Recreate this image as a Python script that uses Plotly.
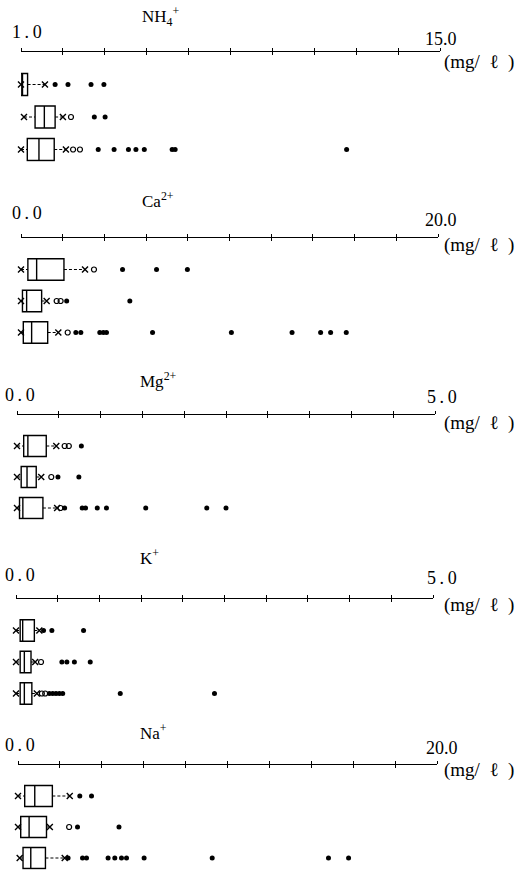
import plotly.graph_objects as go
import numpy as np

GROUPS = ["A", "B", "C"]

ION_NAMES = ["NH<sub>4</sub><sup>+</sup>", "Ca<sup>2+</sup>", "Mg<sup>2+</sup>", "K<sup>+</sup>", "Na<sup>+</sup>"]
AXIS_MIN = [1.0, 0.0, 0.0, 0.0, 0.0]
AXIS_MAX = [15.0, 20.0, 5.0, 5.0, 20.0]
AXIS_MIN_LABELS = ["1\u2009.\u20090", "0\u2009.\u20090", "0\u2009.\u20090", "0\u2009.\u20090", "0\u2009.\u20090"]
AXIS_MAX_LABELS = ["15.0", "20.0", "5\u2009.\u20090", "5\u2009.\u20090", "20.0"]
UNIT = "(mg/\u00a0\u00a0ℓ\u00a0\u00a0)"

# NH4+
NH4_LOW = [1.0, 1.10, 1.0]
NH4_Q1 = [1.0, 1.47, 1.21]
NH4_MED = [1.05, 1.78, 1.60]
NH4_Q3 = [1.22, 2.14, 2.11]
NH4_HIGH = [1.80, 2.40, 2.50]
NH4_MILD = [[], [0.97, 2.67], [2.74, 2.97]]
NH4_FAR = [[2.14, 2.57, 3.34, 3.77], [3.45, 3.81],
           [3.58, 4.11, 4.59, 4.84, 5.12, 6.05, 6.15, 11.88]]

# Ca2+
CA_LOW = [0.0, 0.0, 0.0]
CA_Q1 = [0.33, 0.07, 0.11]
CA_MED = [0.75, 0.27, 0.51]
CA_Q3 = [2.06, 0.99, 1.28]
CA_HIGH = [3.07, 1.23, 1.79]
CA_MILD = [[3.50], [1.71, 1.90], [2.24]]
CA_FAR = [[4.87, 6.50, 7.98], [2.19, 5.22],
          [2.63, 2.87, 3.78, 3.95, 4.10, 6.31, 10.09, 13.0, 14.37, 14.85, 15.6]]

# Mg2+
MG_LOW = [0.0, 0.0, 0.0]
MG_Q1 = [0.08, 0.05, 0.03]
MG_MED = [0.13, 0.12, 0.07]
MG_Q3 = [0.35, 0.23, 0.31]
MG_HIGH = [0.47, 0.29, 0.48]
MG_MILD = [[0.57, 0.62], [0.41], [0.52]]
MG_FAR = [[0.77], [0.49, 0.74], [0.57, 0.78, 0.82, 0.96, 1.07, 1.54, 2.27, 2.50]]

# K+
K_LOW = [0.0, 0.0, 0.0]
K_Q1 = [0.05, 0.05, 0.05]
K_MED = [0.08, 0.10, 0.10]
K_Q3 = [0.22, 0.18, 0.19]
K_HIGH = [0.28, 0.23, 0.25]
K_MILD = [[], [0.30], [0.31, 0.35]]
K_FAR = [[0.33, 0.43, 0.81], [0.55, 0.61, 0.70, 0.89],
         [0.40, 0.44, 0.48, 0.52, 0.56, 1.25, 2.38]]

# Na+
NA_LOW = [0.0, 0.0, 0.08]
NA_Q1 = [0.32, 0.13, 0.24]
NA_MED = [0.80, 0.53, 0.61]
NA_Q3 = [1.64, 1.36, 1.31]
NA_HIGH = [2.47, 1.52, 2.23]
NA_MILD = [[], [2.44], []]
NA_FAR = [[2.95, 3.51], [2.84, 4.82],
          [2.39, 3.08, 3.27, 4.30, 4.62, 4.94, 5.18, 6.02, 9.27, 14.82, 15.78]]

STATS = [
    (NH4_LOW, NH4_Q1, NH4_MED, NH4_Q3, NH4_HIGH, NH4_MILD, NH4_FAR),
    (CA_LOW, CA_Q1, CA_MED, CA_Q3, CA_HIGH, CA_MILD, CA_FAR),
    (MG_LOW, MG_Q1, MG_MED, MG_Q3, MG_HIGH, MG_MILD, MG_FAR),
    (K_LOW, K_Q1, K_MED, K_Q3, K_HIGH, K_MILD, K_FAR),
    (NA_LOW, NA_Q1, NA_MED, NA_Q3, NA_HIGH, NA_MILD, NA_FAR),
]

# ---- layout geometry (pixels) ----
W, H = 523, 870
AX_Y = [52, 238, 415, 599, 765]
SPACING = [32.5, 31.5, 31.0, 31.5, 31.0]
X0 = [21, 21, 17, 16, 18]
X1 = [440, 438, 435, 433, 437]
TITLE_POS = [(140, 16), (140, 200), (138, 380), (138, 557), (138, 732)]
MIN_LBL_POS = [(27, 32), (27, 213), (20, 395), (20, 575), (20, 745)]
MAX_LBL_POS = [(441, 39), (441, 220), (442, 397), (442, 578), (442, 748)]
UNIT_POS = [(442, 62), (442, 245), (442, 423), (442, 605), (442, 770)]
Y_BOTTOM = 2.38

SERIF = "Liberation Serif, DejaVu Serif, serif"


def px(x):
    return x / W


def py(y):
    return 1 - y / H


fig = go.Figure()
layout = dict(
    width=W, height=H, margin=dict(l=0, r=0, t=0, b=0),
    paper_bgcolor="white", plot_bgcolor="white", showlegend=False,
    annotations=[],
)

for i in range(5):
    n = i + 1
    sfx = "" if n == 1 else str(n)
    xref, yref = "x" + sfx, "y" + sfx
    low, q1, med, q3, high, mild, far = STATS[i]
    lo, hi = AXIS_MIN[i], AXIS_MAX[i]
    ticks = list(np.linspace(lo, hi, 11))

    top = py(AX_Y[i])
    bot = py(AX_Y[i] + (Y_BOTTOM + 1) * SPACING[i])
    layout["xaxis" + sfx] = dict(
        domain=[px(X0[i]), px(X1[i])], range=[lo, hi], anchor=yref, side="top",
        showline=True, linecolor="black", linewidth=1.3,
        ticks="outside", ticklen=3, tickwidth=1.2, tickcolor="black",
        tickmode="array", tickvals=ticks, showticklabels=False,
        showgrid=False, zeroline=False, fixedrange=True,
    )
    layout["xaxis" + str(n + 5)] = dict(
        overlaying=xref, range=[lo, hi], anchor=yref, side="top",
        showline=False, ticks="inside", ticklen=3, tickwidth=1.2, tickcolor="black",
        tickmode="array", tickvals=ticks, showticklabels=False,
        showgrid=False, zeroline=False, fixedrange=True,
    )
    layout["yaxis" + sfx] = dict(
        domain=[max(bot, 0), top], anchor=xref, type="category",
        categoryorder="array", categoryarray=GROUPS, range=[Y_BOTTOM, -1],
        showticklabels=False, showgrid=False, zeroline=False, showline=False,
        ticks="", fixedrange=True,
    )
    fig.add_trace(go.Scatter(x=[lo], y=[GROUPS[0]], mode="markers",
                             marker=dict(opacity=0), xaxis="x" + str(n + 5), yaxis=yref,
                             hoverinfo="skip"))

    fig.add_trace(go.Box(
        y=GROUPS, q1=q1, median=med, q3=q3, lowerfence=q1, upperfence=q3,
        orientation="h", boxpoints=False, width=0.68, whiskerwidth=0,
        line=dict(color="black", width=1.4), fillcolor="rgba(0,0,0,0)",
        xaxis=xref, yaxis=yref,
    ))
    wx, wy = [], []
    for g, a, b, c, d in zip(GROUPS, low, q1, q3, high):
        wx += [a, b, None, c, d, None]
        wy += [g, g, None, g, g, None]
    fig.add_trace(go.Scatter(x=wx, y=wy, mode="lines",
                             line=dict(color="black", width=1, dash="3px,2px"),
                             xaxis=xref, yaxis=yref))
    fig.add_trace(go.Scatter(
        x=low + high, y=GROUPS + GROUPS, mode="markers", cliponaxis=False,
        marker=dict(symbol="x-thin-open", size=6, color="black",
                    line=dict(color="black", width=1.4)),
        xaxis=xref, yaxis=yref))
    mx = [v for row in mild for v in row]
    my = [g for g, row in zip(GROUPS, mild) for _ in row]
    fig.add_trace(go.Scatter(
        x=mx, y=my, mode="markers", cliponaxis=False,
        marker=dict(symbol="circle-open", size=5, color="black", line=dict(width=1.2, color="black")),
        xaxis=xref, yaxis=yref))
    fx = [v for row in far for v in row]
    fy = [g for g, row in zip(GROUPS, far) for _ in row]
    fig.add_trace(go.Scatter(
        x=fx, y=fy, mode="markers", cliponaxis=False,
        marker=dict(symbol="circle", size=5, color="black"),
        xaxis=xref, yaxis=yref))

    ann = layout["annotations"]
    ann.append(dict(text=ION_NAMES[i], x=px(TITLE_POS[i][0]), y=py(TITLE_POS[i][1]),
                    xref="paper", yref="paper", xanchor="left", yanchor="middle",
                    showarrow=False, font=dict(family=SERIF, size=17, color="black")))
    ann.append(dict(text=AXIS_MIN_LABELS[i], x=px(MIN_LBL_POS[i][0]), y=py(MIN_LBL_POS[i][1]),
                    xref="paper", yref="paper", xanchor="center", yanchor="middle",
                    showarrow=False, font=dict(family=SERIF, size=18, color="black")))
    ann.append(dict(text=AXIS_MAX_LABELS[i], x=px(MAX_LBL_POS[i][0]), y=py(MAX_LBL_POS[i][1]),
                    xref="paper", yref="paper", xanchor="center", yanchor="middle",
                    showarrow=False, font=dict(family=SERIF, size=18, color="black")))
    ann.append(dict(text=UNIT, x=px(UNIT_POS[i][0]), y=py(UNIT_POS[i][1]),
                    xref="paper", yref="paper", xanchor="left", yanchor="middle",
                    showarrow=False, font=dict(family=SERIF, size=19, color="black")))

fig.update_layout(**layout)
fig.write_html("out.html", config={"displayModeBar": False},
               post_script="document.body.style.margin='0';document.body.style.overflow='hidden';")
